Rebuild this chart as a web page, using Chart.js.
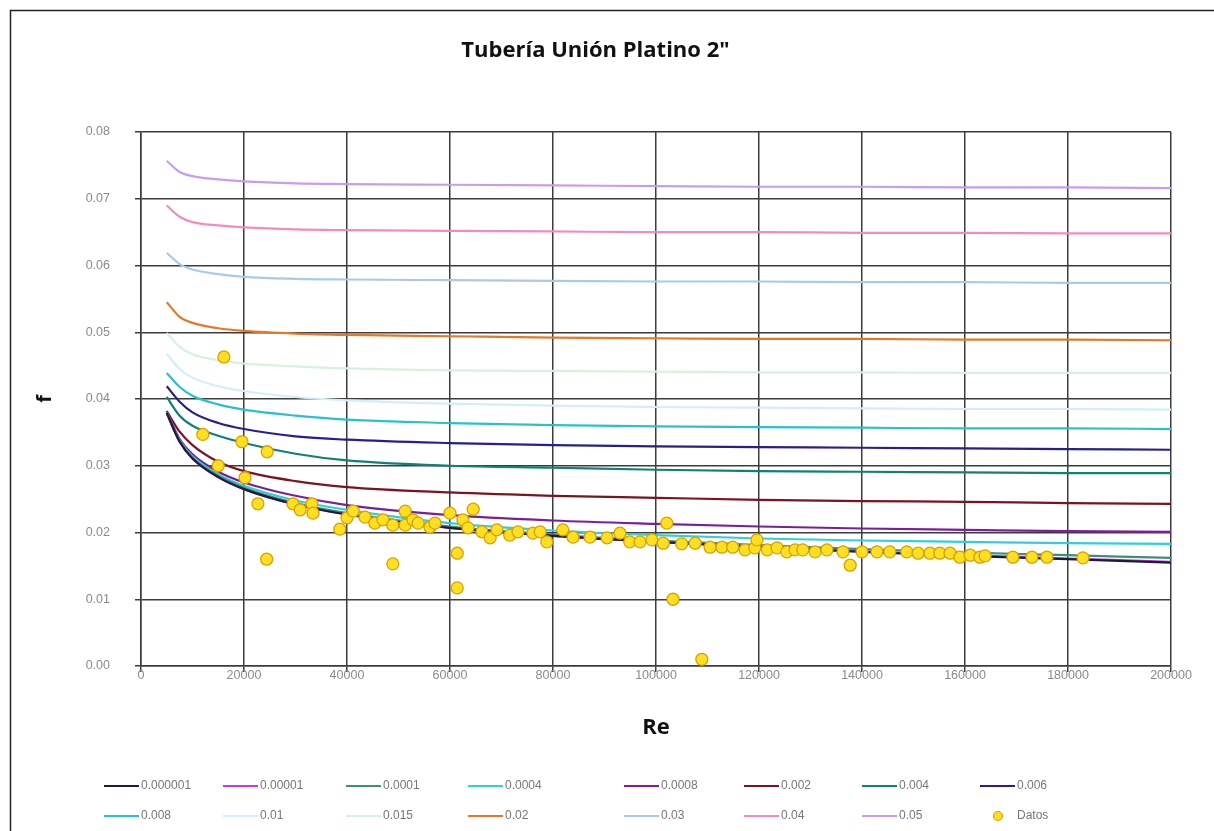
<!DOCTYPE html>
<html>
<head>
<meta charset="utf-8">
<script src="https://cdn.jsdelivr.net/npm/chart.js@4.4.1/dist/chart.umd.min.js"></script>
<style>
html,body{margin:0;padding:0;background:#fff;}
#wrap{width:1214px;height:831px;position:relative;}
</style>
</head>
<body>
<div id="wrap"><canvas id="c" width="1214" height="831"></canvas></div>
<script>
// ---- Data ----
const chartTitle = 'Tubería Unión Platino 2"';
const xTitle = 'Re';
const yTitle = 'f';
const reGrid = [5000, 7500, 10000, 15000, 20000, 30000, 40000, 60000, 80000, 100000, 120000, 140000, 160000, 180000, 200000];
const seriesLabels = ['0.000001','0.00001','0.0001','0.0004','0.0008','0.002','0.004','0.006','0.008','0.01','0.015','0.02','0.03','0.04','0.05'];
const f_0_000001 = [0.0379,0.0336,0.0311,0.0283,0.0265,0.0242,0.0227,0.0207,0.0195,0.0186,0.0178,0.0171,0.0165,0.0160,0.0155];
const f_0_00001  = [0.0379,0.0336,0.0311,0.0283,0.0265,0.0242,0.0227,0.0207,0.0195,0.0186,0.0178,0.0172,0.0166,0.0161,0.0156];
const f_0_0001   = [0.0380,0.0337,0.0312,0.0285,0.0267,0.0244,0.0229,0.0209,0.0197,0.0188,0.0181,0.0175,0.0170,0.0166,0.0162];
const f_0_0004   = [0.0380,0.0338,0.0314,0.0287,0.0270,0.0248,0.0234,0.0214,0.0203,0.0196,0.0191,0.0188,0.0186,0.0184,0.0183];
const f_0_0008   = [0.0381,0.0340,0.0317,0.0291,0.0275,0.0255,0.0241,0.0226,0.0218,0.0213,0.0209,0.0206,0.0204,0.0202,0.0201];
const f_0_002    = [0.0382,0.0351,0.0331,0.0306,0.0292,0.0277,0.0268,0.0260,0.0255,0.0252,0.0249,0.0247,0.0246,0.0244,0.0243];
const f_0_004    = [0.0403,0.0375,0.0360,0.0345,0.0334,0.0318,0.0308,0.0300,0.0297,0.0294,0.0292,0.0291,0.0290,0.0289,0.0289];
const f_0_006    = [0.0419,0.0396,0.0380,0.0364,0.0355,0.0344,0.0339,0.0334,0.0331,0.0329,0.0328,0.0327,0.0326,0.0325,0.0324];
const f_0_008    = [0.0439,0.0418,0.0405,0.0392,0.0384,0.0375,0.0369,0.0364,0.0361,0.0359,0.0358,0.0357,0.0356,0.0356,0.0355];
const f_0_01     = [0.0468,0.0445,0.0432,0.0419,0.0412,0.0403,0.0398,0.0393,0.0390,0.0388,0.0387,0.0386,0.0385,0.0385,0.0384];
const f_0_015    = [0.0499,0.0478,0.0467,0.0458,0.0453,0.0449,0.0446,0.0443,0.0442,0.0441,0.0440,0.0440,0.0439,0.0439,0.0439];
const f_0_02     = [0.0545,0.0523,0.0514,0.0506,0.0502,0.0498,0.0496,0.0494,0.0492,0.0491,0.0490,0.0490,0.0489,0.0489,0.0488];
const f_0_03     = [0.0619,0.0602,0.0594,0.0587,0.0583,0.0580,0.0579,0.0578,0.0577,0.0576,0.0576,0.0575,0.0575,0.0574,0.0574];
const f_0_04     = [0.0690,0.0673,0.0665,0.0660,0.0657,0.0654,0.0653,0.0652,0.0651,0.0650,0.0650,0.0649,0.0649,0.0648,0.0648];
const f_0_05     = [0.0757,0.0740,0.0734,0.0729,0.0726,0.0723,0.0722,0.0721,0.0720,0.0719,0.0718,0.0718,0.0717,0.0717,0.0716];
const datosLabel = 'Datos';
const datosRe = [16100,12000,15000,19600,20200,22700,24500,24400,29500,30900,33200,33400,38600,40000,41200,43500,45400,47000,48900,48900,51300,51300,52800,53800,56100,57100,60000,61400,61400,62500,63500,64500,66200,67800,69100,71600,73200,76100,77500,78800,81900,83900,87200,90500,93000,94900,96900,99200,101400,102100,103300,105000,107600,108900,110500,112800,114900,117300,119200,119600,121600,123500,125400,127000,128500,130900,133200,136300,137700,140000,142900,145400,148700,150900,153200,155100,157100,159000,161000,162900,163900,169300,173000,175900,182900];
const datosF  = [0.0463,0.0347,0.0300,0.0336,0.0282,0.0243,0.0321,0.0160,0.0243,0.0234,0.0243,0.0229,0.0205,0.0222,0.0232,0.0223,0.0214,0.0219,0.0211,0.0153,0.0232,0.0211,0.0219,0.0214,0.0208,0.0214,0.0229,0.0169,0.0117,0.0219,0.0207,0.0235,0.0201,0.0192,0.0204,0.0196,0.0201,0.0199,0.0201,0.0186,0.0204,0.0193,0.0193,0.0192,0.0199,0.0186,0.0186,0.0189,0.0184,0.0214,0.0100,0.0183,0.0184,0.0010,0.0178,0.0178,0.0178,0.0174,0.0177,0.0189,0.0174,0.0177,0.0171,0.0174,0.0174,0.0171,0.0174,0.0171,0.0151,0.0171,0.0171,0.0171,0.0171,0.0169,0.0169,0.0169,0.0169,0.0163,0.0166,0.0163,0.0165,0.0163,0.0163,0.0163,0.0162];
const xTickValues = [0,20000,40000,60000,80000,100000,120000,140000,160000,180000,200000];
const yTickValues = [0.00,0.01,0.02,0.03,0.04,0.05,0.06,0.07,0.08];

// ---- Styles ----
const seriesValues = [f_0_000001,f_0_00001,f_0_0001,f_0_0004,f_0_0008,f_0_002,f_0_004,f_0_006,f_0_008,f_0_01,f_0_015,f_0_02,f_0_03,f_0_04,f_0_05];
const seriesColors = ['#1c1c3c','#c040d0','#3f8f78','#30d0d8','#7a1f9a','#7a1424','#138078','#26208f','#2cbfd0','#d2eef6','#d6f2dc','#e07a2a','#a9cbe6','#f08cc0','#c89cf0'];
const FONT = '"Liberation Sans", Arial, sans-serif';

const datasets = seriesLabels.map((lab, i) => ({
  label: lab,
  data: reGrid.map((r, j) => ({x: r, y: seriesValues[i][j]})),
  showLine: true,
  borderColor: seriesColors[i],
  backgroundColor: seriesColors[i],
  borderWidth: 2.2,
  pointRadius: 0,
  cubicInterpolationMode: 'monotone',
  order: 1
}));
datasets.push({
  label: datosLabel,
  data: datosRe.map((r, j) => ({x: r, y: datosF[j]})),
  showLine: false,
  pointRadius: 6,
  pointBackgroundColor: '#ffe020',
  pointBorderColor: '#d9a000',
  pointBorderWidth: 1.3,
  backgroundColor: '#ffe020',
  borderColor: '#d9a000',
  order: 0
});

const frame = {
  id: 'frame',
  beforeDraw(chart) {
    const c = chart.ctx;
    c.save();
    c.fillStyle = '#fff';
    c.fillRect(0, 0, chart.width, chart.height);
    c.strokeStyle = '#222';
    c.lineWidth = 1.5;
    c.strokeRect(10.5, 10.5, 1400, 1000);
    c.restore();
  }
};

const gridLegend = {
  id: 'gridLegend',
  afterDraw(chart) {
    const c = chart.ctx;
    const cols = [141, 260, 383, 505, 661, 781, 899, 1017];
    const rows = [786, 816];
    c.save();
    c.font = '12px ' + FONT;
    c.textBaseline = 'middle';
    c.textAlign = 'left';
    chart.data.datasets.forEach((ds, i) => {
      const tx = cols[i % 8], ty = rows[Math.floor(i / 8)];
      if (ds.showLine) {
        c.strokeStyle = ds.borderColor;
        c.lineWidth = 2.2;
        c.beginPath();
        c.moveTo(tx - 37, ty);
        c.lineTo(tx - 2, ty);
        c.stroke();
      } else {
        c.beginPath();
        c.arc(tx - 19, ty, 4.5, 0, Math.PI * 2);
        c.fillStyle = ds.pointBackgroundColor;
        c.fill();
        c.strokeStyle = ds.pointBorderColor;
        c.lineWidth = 1.2;
        c.stroke();
      }
      c.fillStyle = '#777';
      c.fillText(ds.label, tx, ty);
    });
    c.restore();
  }
};

new Chart(document.getElementById('c'), {
  type: 'scatter',
  data: { datasets },
  plugins: [frame, gridLegend],
  options: {
    responsive: false,
    animation: false,
    devicePixelRatio: 1,
    layout: { padding: { left: 20, right: 43, top: 0, bottom: 85 } },
    plugins: {
      legend: { display: false },
      tooltip: { enabled: false },
      title: {
        display: true,
        text: chartTitle,
        color: '#111',
        font: { family: '"Open Sans", sans-serif', size: 22, weight: 'bold' },
        padding: { top: 38, bottom: 67.6 }
      }
    },
    scales: {
      x: {
        type: 'linear',
        min: 0, max: 200000,
        afterBuildTicks: s => { s.ticks = xTickValues.map(v => ({value: v})); },
        afterFit: s => { s.height = 80; },
        ticks: { color: '#8a8a8a', font: { family: FONT, size: 12.5 }, padding: -4, maxRotation: 0, autoSkip: false, callback: v => String(v) },
        grid: { color: '#3c3c3c', lineWidth: 1.5, tickLength: 6 },
        border: { color: '#3c3c3c', width: 1.5 },
        title: { display: true, text: xTitle, color: '#111', font: { family: '"Open Sans", sans-serif', size: 22, weight: 'bold' }, padding: { top: 0, bottom: 5 } }
      },
      y: {
        type: 'linear',
        min: 0, max: 0.08,
        afterBuildTicks: s => { s.ticks = yTickValues.map(v => ({value: v})); },
        afterFit: s => { s.width = 121; },
        ticks: { color: '#8a8a8a', font: { family: FONT, size: 12.5 }, padding: 25, callback: v => Number(v).toFixed(2) },
        grid: { color: '#3c3c3c', lineWidth: 1.5, tickLength: 6 },
        border: { color: '#3c3c3c', width: 1.5 },
        title: { display: true, text: yTitle, color: '#111', font: { family: '"Open Sans", sans-serif', size: 20, weight: 'bold' }, padding: { top: 13, bottom: 0 } }
      }
    }
  }
});
</script>
</body>
</html>
